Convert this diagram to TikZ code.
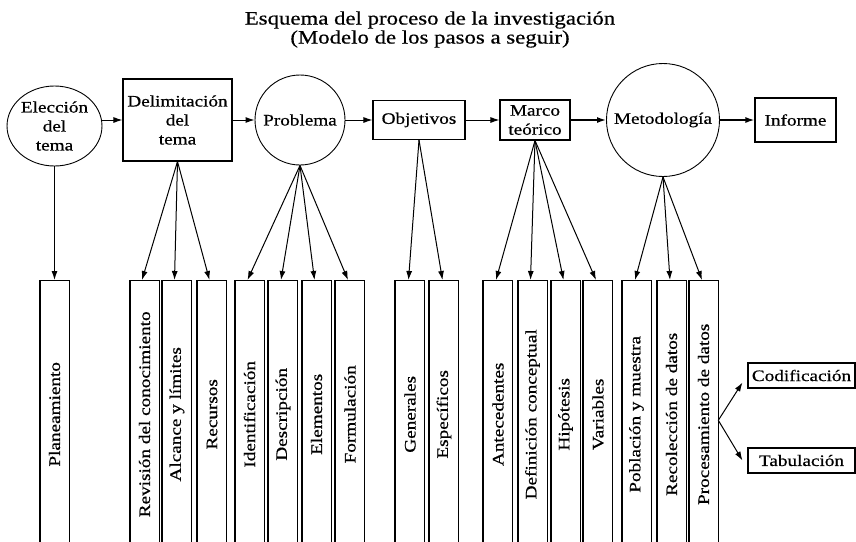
\documentclass[tikz,border=0pt]{standalone}
\usepackage{graphicx}
\usepackage{fontspec}
\setmainfont{Liberation Serif}[FakeStretch=1.2,FakeBold=0.6]
\usetikzlibrary{arrows.meta,shapes.geometric}
\begin{document}
\begin{tikzpicture}[x=1pt,y=1pt,
  every node/.style={font=\fontsize{16}{19}\selectfont},
  arr/.style={-{Latex[length=9pt,width=6pt]}, line width=1pt},
  thickarr/.style={arr, line width=1.5pt},
  topbox/.style={draw, rectangle, line width=1.1pt, inner sep=0pt, align=center},
  roundnode/.style={draw, circle, line width=0.9pt, inner sep=0pt, align=center},
  tallbox/.style={draw, line width=0.6pt, minimum width=29pt, minimum height=268pt, inner sep=0pt, anchor=north},
  leftedge/.style={line width=2pt},
]
\useasboundingbox (0,0) rectangle (856,-541);

% title
\node[align=center, font=\fontsize{19}{19}\selectfont] (title) at (430,-29.5)
  {Esquema del proceso de la investigación\\(Modelo de los pasos a seguir)};

% top row
\node[roundnode, shape=ellipse, minimum width=87pt, minimum height=80pt] (elec) at (54.5,-126) {Elección\\del\\tema};
\node[topbox, minimum width=109pt, minimum height=82pt] (deli) at (177.5,-120) {Delimitación\\del\\tema};
\node[roundnode, minimum size=90pt] (prob) at (300,-120) {Problema};
\node[topbox, minimum width=92pt, minimum height=39pt] (obje) at (419,-120) {Objetivos};
\node[topbox, minimum width=70pt, minimum height=40pt] (marc) at (535,-120) {Marco\\teórico};
\node[roundnode, minimum size=113pt] (meto) at (663,-120) {Metodología};
\node[topbox, minimum width=81pt, minimum height=44pt] (info) at (795.5,-120) {Informe};

\draw[arr] (elec.east |- deli) -- (deli.west);
\draw[arr] (deli.east) -- (prob.west);
\draw[arr] (prob.east) -- (obje.west);
\draw[arr] (obje.east) -- (marc.west);
\draw[thickarr] (marc.east) -- (meto.west);
\draw[thickarr] (meto.east) -- (info.west);

% bottom boxes
\node[tallbox] (plan) at (54.5,-280) {\rotatebox{90}{Planeamiento}};
\node[tallbox] (revi) at (144.5,-280) {\rotatebox{90}{Revisión del conocimiento}};
\node[tallbox] (alca) at (177,-280) {\rotatebox{90}{Alcance y límites}};
\node[tallbox] (recu) at (212,-280) {\rotatebox{90}{Recursos}};
\node[tallbox] (iden) at (249.5,-280) {\rotatebox{90}{Identificación}};
\node[tallbox] (desc) at (283,-280) {\rotatebox{90}{Descripción}};
\node[tallbox] (elem) at (316.5,-280) {\rotatebox{90}{Elementos}};
\node[tallbox] (form) at (350,-280) {\rotatebox{90}{Formulación}};
\node[tallbox] (gene) at (410,-280) {\rotatebox{90}{Generales}};
\node[tallbox] (espe) at (444,-280) {\rotatebox{90}{Específicos}};
\node[tallbox] (ante) at (498,-280) {\rotatebox{90}{Antecedentes}};
\node[tallbox] (defi) at (532.5,-280) {\rotatebox{90}{Definición conceptual}};
\node[tallbox] (hipo) at (565.5,-280) {\rotatebox{90}{Hipótesis}};
\node[tallbox] (vari) at (598,-280) {\rotatebox{90}{Variables}};
\node[tallbox] (pobl) at (636.5,-280) {\rotatebox{90}{Población y muestra}};
\node[tallbox] (reco) at (671.5,-280) {\rotatebox{90}{Recolección de datos}};
\node[tallbox] (proc) at (703.5,-280) {\rotatebox{90}{Procesamiento de datos}};

\foreach \b in {plan,revi,alca,recu,iden,desc,elem,form,gene,espe,ante,defi,hipo,vari,pobl,reco,proc}
  \draw[leftedge] (\b.north west) -- (\b.south west);

% fans
\draw[arr] (elec.south) -- (plan.north);
\foreach \b in {revi,alca,recu} \draw[arr] (deli.south) -- ([xshift=-2.5pt]\b.north);
\foreach \b in {iden,desc,elem,form} \draw[arr] (prob.south) -- ([xshift=-2pt]\b.north);
\foreach \b in {gene,espe} \draw[arr] (obje.south) -- ([xshift=-1.5pt]\b.north);
\foreach \b in {ante,defi,hipo,vari} \draw[arr] (marc.south) -- ([xshift=-2pt]\b.north);
\foreach \b in {pobl,reco,proc} \draw[arr] (meto.south) -- ([xshift=-1.5pt]\b.north);

% codificación / tabulación
\node[topbox, minimum width=107pt, minimum height=25pt] (codi) at (801.5,-375.5) {Codificación};
\node[topbox, minimum width=107pt, minimum height=25pt] (tabu) at (801.5,-460.5) {Tabulación};
\draw[arr] ([yshift=-6pt]proc.east) -- ([shift={(-5pt,-7pt)}]codi.west);
\draw[arr] ([yshift=-6pt]proc.east) -- ([xshift=-5pt]tabu.west);
\end{tikzpicture}
\end{document}
